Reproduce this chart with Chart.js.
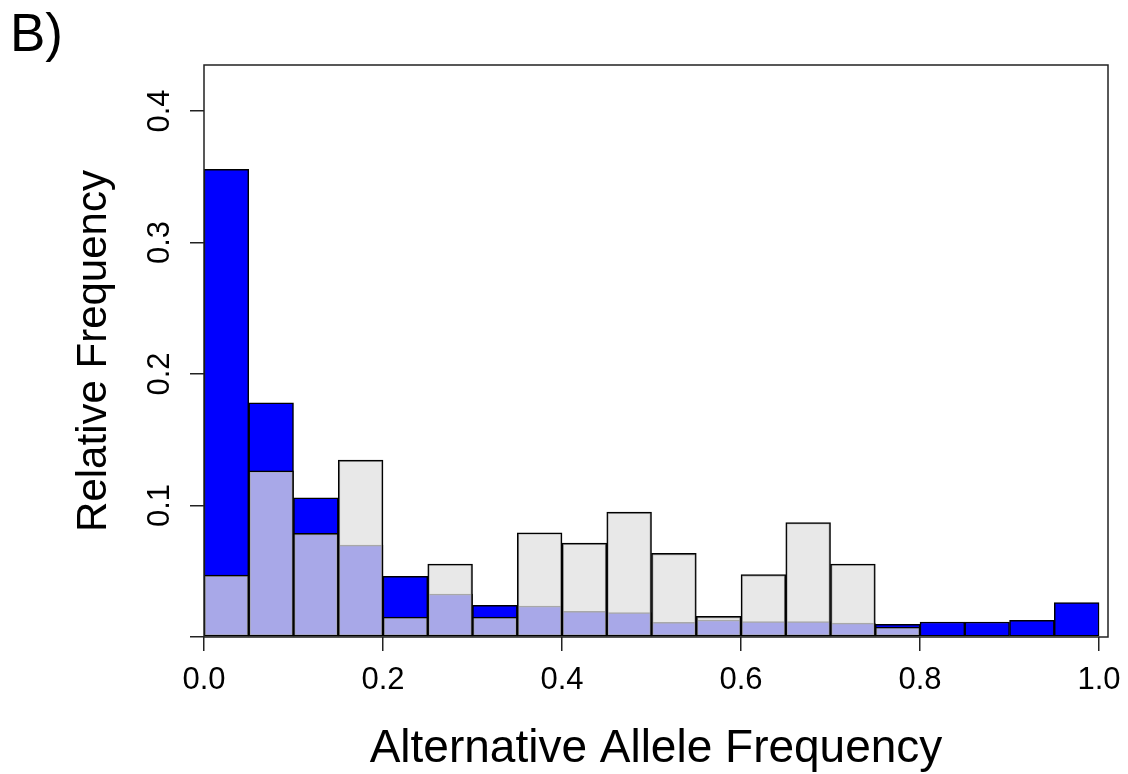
<!DOCTYPE html>
<html>
<head>
<meta charset="utf-8">
<script src="https://cdn.jsdelivr.net/npm/chart.js@4/dist/chart.umd.min.js"></script>
<style>
  html, body { margin: 0; padding: 0; background: #fff; }
  #wrap { width: 1128px; height: 774px; }
</style>
</head>
<body>
<div id="wrap"><canvas id="c" width="1128" height="774"></canvas></div>
<script>
// Bin centres (histogram bins of width 0.05 from 0 to 1)
const binCenters = [0.025, 0.075, 0.125, 0.175, 0.225, 0.275, 0.325, 0.375, 0.425, 0.475,
                    0.525, 0.575, 0.625, 0.675, 0.725, 0.775, 0.825, 0.875, 0.925, 0.975];
// Blue histogram (relative frequency)
const blueValues = [0.3557, 0.178, 0.1059, 0.0699, 0.0461, 0.0327, 0.0241, 0.0236, 0.0195, 0.0185,
                    0.0112, 0.0129, 0.0117, 0.0117, 0.0105, 0.0096, 0.0114, 0.0114, 0.0127, 0.0261];
// Grey (semi-transparent) histogram (relative frequency)
const greyValues = [0.047, 0.1264, 0.0788, 0.1345, 0.0152, 0.0555, 0.0152, 0.0793, 0.0714, 0.095,
                    0.0636, 0.0157, 0.0474, 0.0871, 0.0555, 0.0076, null, null, null, null];
const xTicks = [0, 0.2, 0.4, 0.6, 0.8, 1.0];
const xTickLabels = ['0.0', '0.2', '0.4', '0.6', '0.8', '1.0'];
const yTicks = [0, 0.1, 0.2, 0.3, 0.4];
const yTickLabels = ['', '0.1', '0.2', '0.3', '0.4'];

const FONT = "'Liberation Sans', Arial, Helvetica, sans-serif";
Chart.defaults.font.family = FONT;
Chart.defaults.color = '#000';

const boxPlugin = {
  id: 'box',
  afterDatasetsDraw(chart) {
    const {ctx, chartArea: a} = chart;
    ctx.save();
    ctx.strokeStyle = '#222';
    ctx.lineWidth = 1.5;
    ctx.strokeRect(a.left, a.top, a.right - a.left, a.bottom - a.top);
    ctx.restore();
  }
};

new Chart(document.getElementById('c'), {
  type: 'bar',
  data: {
    datasets: [
      {
        label: 'blue',
        data: binCenters.map((x, i) => ({x: x, y: blueValues[i]})),
        backgroundColor: '#0000FF',
        borderColor: '#000',
        borderWidth: 1.5,
        borderSkipped: false,
        barPercentage: 1,
        categoryPercentage: 1,
        grouped: false,
        order: 2
      },
      {
        label: 'grey',
        data: binCenters.map((x, i) => ({x: x, y: greyValues[i]})),
        backgroundColor: 'rgba(224,224,224,0.75)',
        borderColor: '#000',
        borderWidth: 1.5,
        borderSkipped: false,
        barPercentage: 1,
        categoryPercentage: 1,
        grouped: false,
        order: 1
      }
    ]
  },
  options: {
    responsive: false,
    devicePixelRatio: 1,
    animation: false,
    layout: { padding: { left: 10, right: 20, top: 0, bottom: 0 } },
    plugins: {
      legend: { display: false },
      tooltip: { enabled: false },
      title: {
        display: true,
        text: 'B)',
        align: 'start',
        font: { size: 53, weight: 'normal', lineHeight: 1 },
        color: '#000',
        padding: { top: 10, bottom: 2 }
      }
    },
    scales: {
      x: {
        type: 'linear',
        min: 0,
        max: 1.01,
        offset: false,
        afterBuildTicks(scale) { scale.ticks = xTicks.map(v => ({value: v})); },
        afterFit(scale) { scale.height = 137; scale.paddingLeft = 0; scale.paddingRight = 0; },
        ticks: {
          font: { size: 31 },
          color: '#000',
          padding: 11,
          maxRotation: 0,
          callback: (v, i) => xTickLabels[i]
        },
        grid: { offset: false, drawOnChartArea: false, drawTicks: true, tickLength: 14, color: '#222', lineWidth: 1.5 },
        border: { display: false },
        title: {
          display: true,
          text: 'Alternative Allele Frequency',
          font: { size: 46, lineHeight: 1 },
          color: '#000',
          padding: { top: 0, bottom: 2 }
        }
      },
      y: {
        type: 'linear',
        min: 0,
        max: 0.435,
        afterBuildTicks(scale) { scale.ticks = yTicks.map(v => ({value: v})); },
        afterFit(scale) { scale.width = 194; scale.paddingTop = 0; scale.paddingBottom = 0; },
        ticks: {
          font: { size: 31 },
          color: '#000',
          padding: 8,
          minRotation: 90,
          maxRotation: 90,
          crossAlign: 'center',
          callback: (v, i) => yTickLabels[i]
        },
        grid: { drawOnChartArea: false, drawTicks: true, tickLength: 14, color: '#222', lineWidth: 1.5 },
        border: { display: false },
        title: {
          display: true,
          text: 'Relative Frequency',
          font: { size: 42, lineHeight: 1 },
          color: '#000',
          padding: { top: 63, bottom: 0 }
        }
      }
    }
  },
  plugins: [boxPlugin]
});
</script>
</body>
</html>
